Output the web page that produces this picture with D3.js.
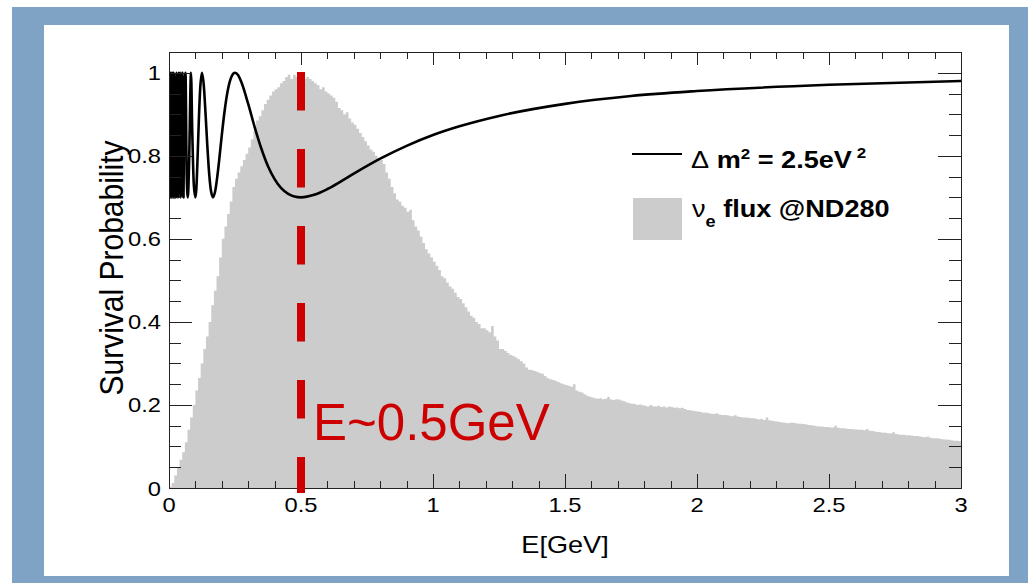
<!DOCTYPE html>
<html>
<head>
<meta charset="utf-8">
<script src="https://cdn.jsdelivr.net/npm/d3@7"></script>
<style>
  html, body { margin: 0; padding: 0; background: #fff; }
  svg { display: block; }
</style>
</head>
<body>
<svg id="chart" width="1028" height="583"></svg>
<script>
// flux histogram, 300 bins of 0.01 GeV from 0 to 3 GeV (one row = 0.1 GeV)
const fluxBinWidth = 0.01;
const fluxValues = [
  0.003, 0.012, 0.030, 0.050, 0.068, 0.086, 0.110, 0.140, 0.170, 0.200,
  0.235, 0.265, 0.300, 0.335, 0.365, 0.400, 0.440, 0.475, 0.510, 0.555,
  0.600, 0.630, 0.660, 0.690, 0.725, 0.745, 0.760, 0.775, 0.790, 0.805,
  0.820, 0.840, 0.860, 0.885, 0.895, 0.910, 0.925, 0.935, 0.945, 0.955,
  0.960, 0.965, 0.975, 0.980, 0.990, 0.995, 0.985, 0.995, 0.990, 1.000,
  0.995, 0.985, 0.990, 0.985, 0.980, 0.975, 0.970, 0.960, 0.965, 0.955,
  0.950, 0.945, 0.940, 0.930, 0.915, 0.910, 0.900, 0.905, 0.890, 0.880,
  0.875, 0.865, 0.855, 0.845, 0.835, 0.825, 0.815, 0.810, 0.800, 0.795,
  0.790, 0.780, 0.760, 0.745, 0.725, 0.710, 0.695, 0.690, 0.680, 0.675,
  0.665, 0.670, 0.645, 0.630, 0.620, 0.605, 0.590, 0.575, 0.565, 0.555,
  0.545, 0.535, 0.525, 0.510, 0.505, 0.495, 0.485, 0.480, 0.470, 0.460,
  0.455, 0.445, 0.435, 0.425, 0.415, 0.410, 0.400, 0.395, 0.385, 0.385,
  0.380, 0.375, 0.390, 0.365, 0.355, 0.335, 0.335, 0.330, 0.325, 0.320,
  0.318, 0.314, 0.310, 0.305, 0.300, 0.290, 0.285, 0.284, 0.282, 0.280,
  0.277, 0.275, 0.270, 0.265, 0.262, 0.260, 0.258, 0.255, 0.252, 0.250,
  0.248, 0.246, 0.244, 0.250, 0.235, 0.232, 0.230, 0.226, 0.222, 0.220,
  0.218, 0.216, 0.215, 0.216, 0.214, 0.215, 0.219, 0.213, 0.212, 0.214,
  0.213, 0.211, 0.209, 0.206, 0.204, 0.203, 0.202, 0.200, 0.201, 0.199,
  0.198, 0.196, 0.200, 0.197, 0.196, 0.198, 0.195, 0.196, 0.194, 0.196,
  0.195, 0.193, 0.194, 0.192, 0.193, 0.190, 0.188, 0.187, 0.186, 0.185,
  0.184, 0.183, 0.181, 0.182, 0.180, 0.179, 0.178, 0.180, 0.177, 0.176,
  0.176, 0.175, 0.174, 0.173, 0.175, 0.172, 0.171, 0.170, 0.170, 0.169,
  0.168, 0.168, 0.167, 0.165, 0.166, 0.164, 0.170, 0.163, 0.162, 0.161,
  0.160, 0.159, 0.158, 0.157, 0.156, 0.157, 0.157, 0.156, 0.155, 0.155,
  0.154, 0.153, 0.152, 0.151, 0.150, 0.149, 0.148, 0.148, 0.147, 0.147,
  0.146, 0.146, 0.150, 0.145, 0.144, 0.144, 0.143, 0.142, 0.142, 0.141,
  0.141, 0.140, 0.140, 0.139, 0.142, 0.138, 0.137, 0.136, 0.135, 0.134,
  0.133, 0.133, 0.132, 0.131, 0.134, 0.130, 0.129, 0.128, 0.128, 0.127,
  0.127, 0.126, 0.125, 0.125, 0.124, 0.123, 0.122, 0.124, 0.121, 0.120,
  0.120, 0.119, 0.118, 0.117, 0.117, 0.116, 0.115, 0.114, 0.114, 0.113
];

// survival probability curve (E in GeV, P)
const survE = [
  0.001, 0.002, 0.003, 0.004, 0.005, 0.006, 0.007, 0.008, 0.009, 0.010,
  0.011, 0.012, 0.013, 0.014, 0.015, 0.016, 0.017, 0.018, 0.019, 0.020,
  0.022, 0.024, 0.026, 0.028, 0.030, 0.032, 0.034, 0.036, 0.038, 0.040,
  0.042, 0.044, 0.046, 0.048, 0.050, 0.052, 0.055, 0.058, 0.0625, 0.067,
  0.0714, 0.076, 0.0833, 0.088, 0.094,
  0.100, 0.1036, 0.1071, 0.110, 0.1136, 0.118, 0.125, 0.132, 0.1389, 0.145,
  0.150, 0.158, 0.1667, 0.175, 0.1833, 0.190, 0.200, 0.210, 0.225, 0.237,
  0.250, 0.262, 0.275, 0.300, 0.325, 0.350, 0.375, 0.400, 0.425, 0.450,
  0.475, 0.500, 0.550, 0.600, 0.650, 0.700, 0.800, 0.900, 1.000, 1.100,
  1.250, 1.500, 1.750, 2.000, 2.500, 3.000
];
const survP = [
  0.70, 0.99, 0.72, 1.00, 0.70, 0.97, 0.74, 1.00, 0.70, 0.90,
  0.99, 0.71, 0.84, 1.00, 0.70, 0.95, 0.78, 1.00, 0.70, 0.99,
  0.70, 0.93, 0.70, 1.00, 0.76, 0.98, 0.70, 1.00, 0.72, 0.86,
  1.00, 0.70, 0.97, 0.75, 1.00, 0.71, 0.70, 0.98, 1.00, 0.75,
  0.70, 0.78, 1.00, 0.86, 0.73,
  0.700, 0.720, 0.775, 0.829, 0.896, 0.960, 1.000, 0.968, 0.896, 0.826,
  0.775, 0.720, 0.700, 0.715, 0.752, 0.789, 0.850, 0.905, 0.965, 0.991,
  1.000, 0.994, 0.976, 0.925, 0.868, 0.817, 0.775, 0.744, 0.722, 0.709,
  0.702, 0.700, 0.706, 0.720, 0.738, 0.757, 0.793, 0.824, 0.850, 0.871,
  0.896, 0.925, 0.944, 0.956, 0.971, 0.980
];

const xTickLabels = ["0", "0.5", "1", "1.5", "2", "2.5", "3"];
const yTickLabels = ["0", "0.2", "0.4", "0.6", "0.8", "1"];
const markerE = 0.5;

const W = 1028, H = 583;
const plot = { left: 169, right: 961, top: 52, bottom: 488 };
const stretch = 1.13;   // the plot image is stretched sideways in the slide
const font = "'Liberation Sans', Arial, Helvetica, sans-serif";

const svg = d3.select("#chart");

// slide frame
svg.append("rect").attr("width", W).attr("height", H).attr("fill", "#fff");
svg.append("rect").attr("x", 12).attr("y", 7).attr("width", W - 12).attr("height", H - 7).attr("fill", "#7fa3c5");
svg.append("rect").attr("x", 44).attr("y", 25).attr("width", 1009 - 44).attr("height", 576 - 25).attr("fill", "#fff");

const x = d3.scaleLinear().domain([0, 3]).range([plot.left, plot.right]);
const y = d3.scaleLinear().domain([0, 1.05]).range([plot.bottom, plot.top]);

svg.append("defs").append("clipPath").attr("id", "clip")
  .append("rect")
  .attr("x", plot.left).attr("y", plot.top)
  .attr("width", plot.right - plot.left).attr("height", plot.bottom - plot.top);

// histogram
const histPts = fluxValues.map((v, i) => [i * fluxBinWidth, v]);
histPts.push([fluxValues.length * fluxBinWidth, fluxValues[fluxValues.length - 1]]);

svg.append("path")
  .attr("d", d3.area()
    .x(d => x(d[0]))
    .y0(y(0))
    .y1(d => y(d[1]))
    .curve(d3.curveStepAfter)(histPts))
  .attr("fill", "#cccccc");

// survival probability
const survPts = survE.map((e, i) => [e, survP[i]]);
svg.append("path")
  .attr("clip-path", "url(#clip)")
  .attr("d", d3.line()
    .x(d => x(d[0]))
    .y(d => y(d[1]))
    .curve(d3.curveMonotoneX)(survPts))
  .attr("fill", "none")
  .attr("stroke", "#000")
  .attr("stroke-width", 2.6)
  .attr("stroke-linejoin", "round");

// ticks on all four sides, pointing inwards
const xMajor = d3.range(0, 3.001, 0.5);
const xMinor = d3.range(0, 3.001, 0.1);
const yMajor = d3.range(0, 1.001, 0.2);
const yMinor = d3.range(0, 1.051, 0.05);

function tickAxis(axis, tx, ty) {
  const g = svg.append("g").attr("transform", `translate(${tx},${ty})`).call(axis);
  g.select(".domain").remove();
  g.selectAll("line").attr("stroke", "#222").attr("shape-rendering", "crispEdges");
  g.selectAll("text").remove();
}
tickAxis(d3.axisTop(x).tickValues(xMinor).tickSize(7), 0, plot.bottom);
tickAxis(d3.axisTop(x).tickValues(xMajor).tickSize(14), 0, plot.bottom);
tickAxis(d3.axisBottom(x).tickValues(xMinor).tickSize(7), 0, plot.top);
tickAxis(d3.axisBottom(x).tickValues(xMajor).tickSize(13), 0, plot.top);
tickAxis(d3.axisRight(y).tickValues(yMinor).tickSize(12), plot.left, 0);
tickAxis(d3.axisRight(y).tickValues(yMajor).tickSize(23), plot.left, 0);
tickAxis(d3.axisLeft(y).tickValues(yMinor).tickSize(12), plot.right, 0);
tickAxis(d3.axisLeft(y).tickValues(yMajor).tickSize(23), plot.right, 0);

svg.append("rect")
  .attr("x", plot.left).attr("y", plot.top)
  .attr("width", plot.right - plot.left).attr("height", plot.bottom - plot.top)
  .attr("fill", "none").attr("stroke", "#222").attr("shape-rendering", "crispEdges");

// stretched text helper
function label(px, py, txt, opts = {}) {
  const t = svg.append("text")
    .attr("transform", `translate(${px},${py})${opts.rotate ? ` rotate(${opts.rotate})` : ""} scale(${opts.rotate ? `1,${stretch}` : `${stretch},1`})`)
    .attr("font-family", font)
    .attr("font-size", opts.size || 21)
    .attr("font-weight", opts.bold ? "bold" : "normal")
    .attr("text-anchor", opts.anchor || "start")
    .attr("fill", "#000");
  if (txt != null) t.text(txt);
  return t;
}

xTickLabels.forEach(s => label(x(+s), 512, s, { anchor: "middle" }));
yTickLabels.forEach(s => label(161, y(+s) + 7.5, s, { anchor: "end" }));

label(x(1.5), 553, "E[GeV]", { anchor: "middle", size: 24 });
label(123, (plot.top + plot.bottom) / 2 - 2, "Survival Probability", { anchor: "middle", size: 30, rotate: -90 });

// legend
svg.append("line")
  .attr("x1", 632).attr("x2", 682).attr("y1", 154).attr("y2", 154)
  .attr("stroke", "#000").attr("stroke-width", 2.2);
const l1 = label(691, 168, null, { bold: true, size: 24 });
l1.append("tspan").attr("font-weight", "normal").text("\u0394");
l1.append("tspan").text(" m");
l1.append("tspan").attr("font-size", 15).attr("dy", -9).text("2");
l1.append("tspan").attr("dy", 9).text(" = 2.5eV");
l1.append("tspan").attr("font-size", 15).attr("dy", -10).text(" 2");

svg.append("rect")
  .attr("x", 633).attr("y", 198).attr("width", 49).attr("height", 42)
  .attr("fill", "#cccccc");
const l2 = label(692, 217, null, { bold: true, size: 24 });
l2.append("tspan").attr("font-weight", "normal").text("\u03bd");
l2.append("tspan").attr("font-size", 16).attr("dy", 10).text("e");
l2.append("tspan").attr("dy", -10).text(" flux @ND280");

// slide overlay: marker line and annotation
svg.append("line")
  .attr("x1", x(markerE)).attr("x2", x(markerE))
  .attr("y1", 72).attr("y2", 493)
  .attr("stroke", "#cc0000").attr("stroke-width", 8)
  .attr("stroke-dasharray", "38.5 38.5");

svg.append("text")
  .attr("x", 313).attr("y", 440)
  .attr("font-family", font)
  .attr("font-size", 51)
  .attr("fill", "#cc0000")
  .text("E~0.5GeV");
</script>
</body>
</html>
